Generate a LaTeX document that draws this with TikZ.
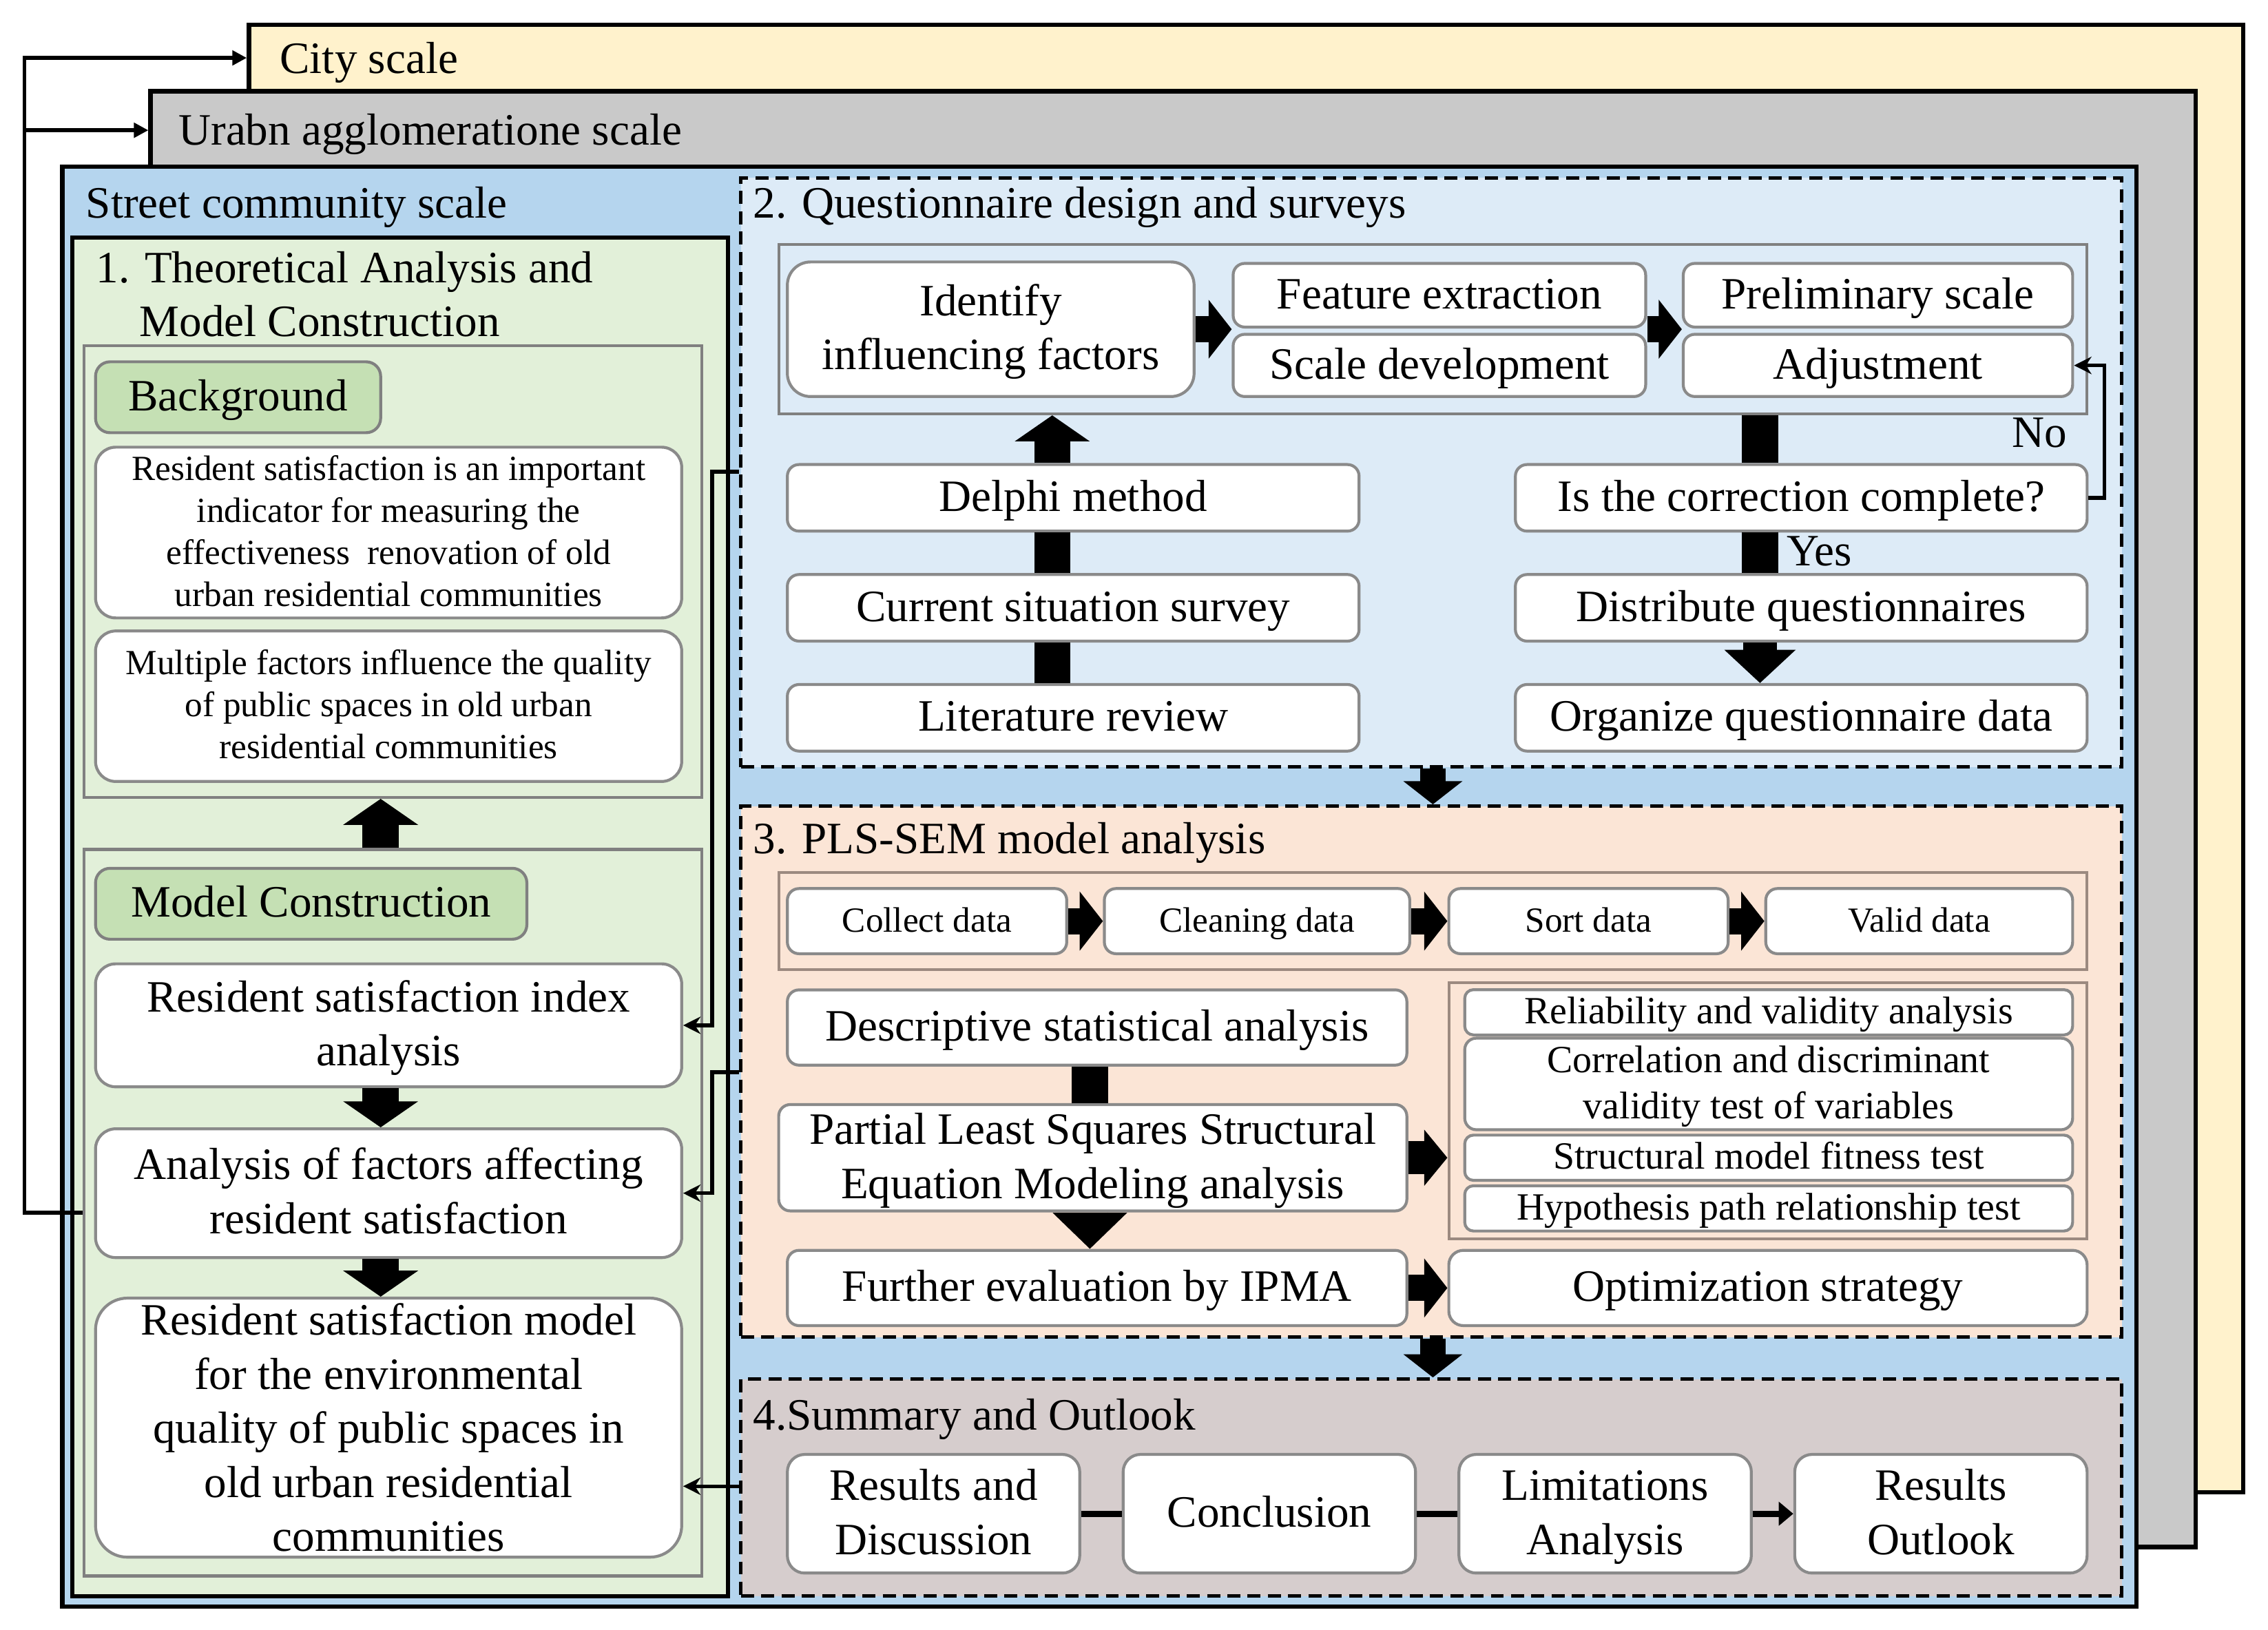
\documentclass[tikz,border=0pt]{standalone}
\usepackage{fontspec}
\setmainfont{Liberation Serif}
\usetikzlibrary{arrows.meta,calc}
\definecolor{cityY}{HTML}{FFF2CC}
\definecolor{urbG}{HTML}{C9C9C9}
\definecolor{strB}{HTML}{B5D5EE}
\definecolor{grnF}{HTML}{E2F0D9}
\definecolor{grnL}{HTML}{C5E0B4}
\definecolor{qtwoF}{HTML}{DDEBF7}
\definecolor{qthrF}{HTML}{FBE5D6}
\definecolor{qfouF}{HTML}{D6CDCD}
\definecolor{bdG}{HTML}{8A8A8A}
\definecolor{gpG}{HTML}{808080}
\definecolor{gpB}{HTML}{9C8A80}
\newcommand\fmain{\fontsize{15.5}{18.7}\selectfont}
\newcommand\fsmall{\fontsize{12.2}{14.5}\selectfont}
\newcommand\fmid{\fontsize{13.3}{16}\selectfont}
\newcommand\linestrut{\rule[-0.25em]{0pt}{1.1em}}
\newcommand\placebox[7][]{%
  \pgfmathsetmacro\bxw{(#5-#3)*0.5}%
  \pgfmathsetmacro\bxh{(#6-#4)*0.5}%
  \pgfmathsetmacro\bxx{(#3+#5)/2}%
  \pgfmathsetmacro\bxy{(#4+#6)/2}%
  \node[#1,minimum width=\bxw pt,minimum height=\bxh pt] (#2) at (\bxx,\bxy) {\linestrut{}#7\linestrut{}};%
}
\begin{document}
\begin{tikzpicture}[x=0.5pt,y=-0.5pt,
  frame/.style={draw=black,line width=1.5pt,inner sep=0pt},
  grp/.style={draw=gpG,line width=1pt,inner sep=0pt},
  dbox/.style={draw=black,line width=1.2pt,dash pattern=on 4.5pt off 2.5pt,inner sep=0pt},
  wbox/.style={draw=bdG,line width=1pt,fill=white,rounded corners=4pt,align=center,inner sep=0.5pt,font=\fmain},
  nostrut/.style={execute at begin node={\let\linestrut\relax}},
  lbl/.style={draw=gpG,line width=1pt,fill=grnL,rounded corners=5pt,inner sep=0pt,font=\fmain},
  title/.style={anchor=base west,inner sep=0pt,font=\fmain},
  blkS/.style={line width=9pt,-{Triangle[width=20pt,length=8pt]}},
  blkM/.style={line width=11.5pt,-{Triangle[width=19pt,length=8pt]}},
  blkB/.style={line width=12.5pt,-{Triangle[width=25.5pt,length=9pt]}},
  blkD/.style={line width=11.5pt,-{Triangle[width=24pt,length=11.5pt]}},
  blkP/.style={line width=12.5pt,-{Triangle[width=25pt,length=12.5pt]}},
  bar/.style={line width=12.5pt},
  sline/.style={line width=1.3pt,-{Triangle[width=5pt,length=5pt]}},
  tline/.style={line width=1.3pt,-{Stealth[width=6pt,length=6pt]}},
  lnk/.style={line width=2.2pt}]
\useasboundingbox (0,0) rectangle (1567,1126);
% scale frames
\placebox[frame,fill=cityY]{city}{172}{17}{1550}{1031}{}
\placebox[frame,fill=urbG]{urban}{104}{63}{1517}{1069}{}
\placebox[frame,fill=strB]{street}{43}{115}{1476}{1110}{}
\node[title] (tcity) at (193,50.5) {City scale};
\node[title] (turb) at (123,100) {Urabn agglomeratione scale};
\node[title] (tstr) at (59,150.5) {Street community scale};
% section 1
\placebox[frame,fill=grnF,line width=1.4pt]{green}{50}{164}{503}{1103}{}
\node[title] (t1a) at (66,195.5) {1. Theoretical Analysis and};
\node[title] (t1b) at (96,232.5) {Model Construction};
\placebox[grp,fill=grnF]{bggrp}{58}{239}{485}{551}{}
\placebox[lbl]{bglbl}{66}{250}{263}{299}{Background}
\placebox[wbox,font=\fsmall,rounded corners=7pt]{bga}{66}{309}{471}{427}{Resident satisfaction is an important\\indicator for measuring the\\effectiveness\ \ renovation of old\\urban residential communities}
\placebox[wbox,font=\fsmall,rounded corners=7pt]{bgb}{66}{436}{471}{540}{Multiple factors influence the quality\\of public spaces in old urban\\residential communities}
\placebox[grp,fill=grnF]{mcgrp}{58}{587}{485}{1089}{}
\placebox[lbl]{mclbl}{66}{600}{364}{649}{Model Construction}
\placebox[wbox,rounded corners=7pt]{rsi}{66}{666}{471}{751}{Resident satisfaction index\\analysis}
\placebox[wbox,rounded corners=7pt]{afa}{66}{780}{471}{869}{Analysis of factors affecting\\resident satisfaction}
\placebox[wbox,nostrut,rounded corners=11pt,inner sep=0pt]{rsm}{66}{897}{471}{1076}{Resident satisfaction model\\for the environmental\\quality of public spaces in\\old urban residential\\communities}
% section 2
\placebox[dbox,fill=qtwoF]{qtwo}{512}{123}{1466}{530}{}
\node[title] (t2) at (520,150.5) {2. Questionnaire design and surveys};
\placebox[grp,fill=qtwoF]{gtwo}{538}{169}{1442}{286}{}
\placebox[wbox,rounded corners=8pt]{idf}{544}{181}{825}{274}{Identify\\influencing factors}
\placebox[wbox]{fe}{852}{182}{1137}{226}{Feature extraction}
\placebox[wbox]{sd}{852}{231}{1137}{274}{Scale development}
\placebox[wbox]{pre}{1163}{182}{1432}{226}{Preliminary scale}
\placebox[wbox]{adj}{1163}{231}{1432}{274}{Adjustment}
\placebox[wbox]{del}{544}{321}{939}{367}{Delphi method}
\placebox[wbox]{cur}{544}{397}{939}{443}{Current situation survey}
\placebox[wbox]{lit}{544}{473}{939}{519}{Literature review}
\placebox[wbox]{isc}{1047}{321}{1442}{367}{Is the correction complete?}
\placebox[wbox]{dis}{1047}{397}{1442}{443}{Distribute questionnaires}
\placebox[wbox]{org}{1047}{473}{1442}{519}{Organize questionnaire data}
\node[title] (no) at (1390,309) {No};
\node[title] (yes) at (1234,391) {Yes};
% section 3
\placebox[dbox,fill=qthrF]{qthr}{512}{557}{1466}{924}{}
\node[title] (t3) at (520,590) {3. PLS-SEM model analysis};
\placebox[grp,draw=gpB,fill=qthrF]{gthr}{538}{603}{1442}{670}{}
\placebox[wbox,font=\fsmall]{col}{544}{614}{737}{659}{Collect data}
\placebox[wbox,font=\fsmall]{cle}{763}{614}{974}{659}{Cleaning data}
\placebox[wbox,font=\fsmall]{sor}{1001}{614}{1194}{659}{Sort data}
\placebox[wbox,font=\fsmall]{val}{1220}{614}{1432}{659}{Valid data}
\placebox[wbox]{des}{544}{684}{972}{736}{Descriptive statistical analysis}
\placebox[wbox]{pls}{538}{766}{972}{834}{Partial Least Squares Structural\\Equation Modeling analysis}
\placebox[wbox]{ipm}{544}{864}{972}{916}{Further evaluation by IPMA}
\placebox[grp,draw=gpB,fill=qthrF]{gthrr}{1001}{679}{1442}{856}{}
\placebox[wbox,font=\fmid,rounded corners=3pt]{rel}{1012}{685}{1432}{714}{Reliability and validity analysis}
\placebox[wbox,font=\fmid,rounded corners=4pt]{cor}{1012}{719}{1432}{779}{Correlation and discriminant\\validity test of variables}
\placebox[wbox,font=\fmid,rounded corners=3pt]{smf}{1012}{785}{1432}{815}{Structural model fitness test}
\placebox[wbox,font=\fmid,rounded corners=3pt]{hyp}{1012}{820}{1432}{850}{Hypothesis path relationship test}
\placebox[wbox,rounded corners=5pt]{opt}{1001}{864}{1442}{916}{Optimization strategy}
% section 4
\placebox[dbox,fill=qfouF]{qfou}{512}{953}{1466}{1103}{}
\node[title] (t4) at (520,988) {4.Summary and Outlook};
\placebox[wbox,rounded corners=6pt]{res}{544}{1005}{746}{1087}{Results and\\Discussion}
\placebox[wbox,rounded corners=6pt]{con}{776}{1005}{978}{1087}{Conclusion}
\placebox[wbox,rounded corners=6pt]{lim}{1008}{1005}{1210}{1087}{Limitations\\Analysis}
\placebox[wbox,rounded corners=6pt]{out}{1240}{1005}{1442}{1087}{Results\\Outlook}
% column coordinates
\coordinate (XA) at (727,0);
\coordinate (XB) at (1216,0);
\coordinate (XC) at (990,0);
\coordinate (XD) at (753,0);
\coordinate (XE) at (263,0);
% left scale connectors
\coordinate (LA) at (17,40);
\coordinate (LB) at (17,90);
\coordinate (LC) at (17,838);
\draw[sline] (LC -| mcgrp.west) -- (LC) -- (LA) -- (LA -| city.west);
\draw[sline] (LB) -- (LB -| urban.west);
% right-to-left connectors
\coordinate (RA) at (492,326);
\coordinate (RB) at (492,741);
\coordinate (RC) at (492,1027);
\draw[tline] (RA -| qtwo.west) -- (RA) |- (rsi.east);
\draw[tline] (RB -| qthr.west) -- (RB) |- (afa.east);
\draw[tline] (RC -| qfou.west) -- (RC -| rsm.east);
% section 1 arrows
\draw[blkB] (mcgrp.north -| XE) -- (bggrp.south -| XE);
\draw[blkB] (rsi.south -| XE) -- (afa.north -| XE);
\draw[blkB] (afa.south -| XE) -- (rsm.north -| XE);
% section 2 arrows
\draw[blkS] (idf.east) -- (idf.east -| fe.west);
\draw[blkS] (fe.east |- idf.east) -- (pre.west |- idf.east);
\draw[blkB] (del.north -| XA) -- (gtwo.south -| XA);
\draw[bar] (cur.north -| XA) -- (del.south -| XA);
\draw[bar] (lit.north -| XA) -- (cur.south -| XA);
\draw[bar] (gtwo.south -| XB) -- (isc.north -| XB);
\draw[bar] (isc.south -| XB) -- (dis.north -| XB);
\draw[blkD] (dis.south -| XB) -- (org.north -| XB);
\draw[tline] (isc.east) -- ++(11,0) |- (adj.east);
\draw[blkS] (qtwo.south -| XC) -- (qthr.north -| XC);
% section 3 arrows
\draw[blkS] (col.east) -- (cle.west);
\draw[blkS] (cle.east) -- (sor.west);
\draw[blkS] (sor.east) -- (val.west);
\draw[bar] (des.south -| XD) -- (pls.north -| XD);
\draw[blkP] (pls.south -| XD) -- (ipm.north -| XD);
\draw[blkM] (pls.east) -- (pls.east -| gthrr.west);
\draw[blkS] (ipm.east) -- (opt.west);
\draw[blkS] (qthr.south -| XC) -- (qfou.north -| XC);
% section 4 links
\draw[lnk] (res.east) -- (con.west);
\draw[lnk] (con.east) -- (lim.west);
\draw[lnk,-{Triangle[width=8pt,length=5pt]}] (lim.east) -- (out.west);
\end{tikzpicture}
\end{document}
